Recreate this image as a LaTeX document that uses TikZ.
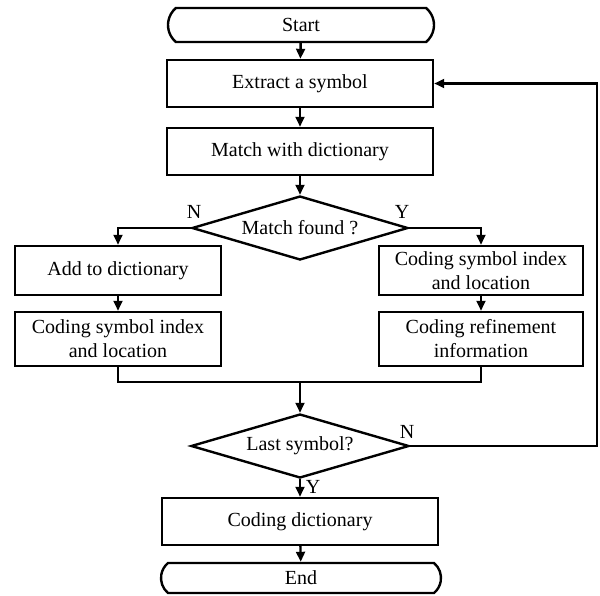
\documentclass[tikz,border=0pt]{standalone}
\usepackage{fontspec}
\setmainfont{Liberation Serif}
\usetikzlibrary{arrows.meta,shapes.geometric,shapes.misc}

\begin{document}
\begin{tikzpicture}[>={Triangle[length=5pt,width=4.4pt]},x=0.5pt,y=-0.5pt,
    line width=1.2pt,font=\fontsize{10}{12}\selectfont,
    box/.style={draw,align=center,inner sep=1pt},
    term/.style={draw,rounded rectangle,rounded rectangle arc length=100,
                 inner sep=1pt},
    decision/.style={draw,diamond,inner sep=0pt,aspect=3.4},
    yn/.style={inner sep=0pt}]
  \useasboundingbox (0,0) rectangle (600,595);

  % ===== MAIN COLUMN =====
  \node[term,minimum width=135pt,minimum height=17pt] (start) at (301,25) {Start};
  \node[box,minimum width=133pt,minimum height=23.5pt] (extract) at (300,83.5)
        {Extract a symbol};
  \node[box,minimum width=133pt,minimum height=23.5pt] (match) at (300,151.5)
        {Match with dictionary};
  \node[decision,minimum width=108pt,minimum height=32pt] (found) at (300,228)
        {Match found ?};

  % ===== LEFT BRANCH =====
  \node[box,minimum width=103pt,minimum height=24.5pt] (add) at (118,270.5)
        {Add to dictionary};
  \node[box,minimum width=103pt,minimum height=27pt] (codeL) at (118,339)
        {Coding symbol index\\and location};

  % ===== RIGHT BRANCH =====
  \node[box,minimum width=102pt,minimum height=24.5pt] (codeR) at (481,270.5)
        {Coding symbol index\\and location};
  \node[box,minimum width=102pt,minimum height=27pt] (refine) at (481,339)
        {Coding refinement\\information};

  % ===== END OF LOOP =====
  \node[decision,minimum width=109pt,minimum height=32pt] (last) at (300,446)
        {Last symbol?};
  \node[box,minimum width=138pt,minimum height=23.5pt] (dict) at (300,521.5)
        {Coding dictionary};
  \node[term,minimum width=142pt,minimum height=15pt] (stop) at (301,578) {End};

  \node[yn] (n1) at (194,212) {N};
  \node[yn] (y1) at (402,212) {Y};
  \node[yn] (n2) at (407,432) {N};
  \node[yn] (y2) at (313,487) {Y};

  \coordinate (merge) at (300,382);
  \coordinate (loop) at (597,446);

  % connectors
  \draw[->] (start) -- (extract);
  \draw[->] (extract) -- (match);
  \draw[->] (match) -- (found);
  \draw[->] (found.west) -| (add.north);
  \draw[->] (found.east) -| (codeR.north);
  \draw[->] (add) -- (codeL);
  \draw[->] (codeR) -- (refine);
  \draw (codeL.south) |- (merge) -| (refine.south);
  \draw[->] (merge) -- (last.north);
  \draw[->] (last.east) -- (loop) |- (extract.east);
  \draw[->] (last) -- (dict);
  \draw[->] (dict) -- (stop);

\end{tikzpicture}
\end{document}
